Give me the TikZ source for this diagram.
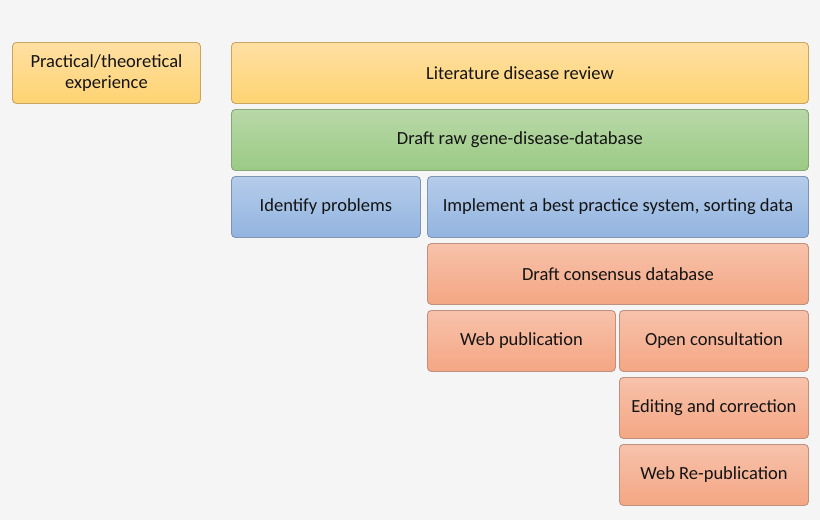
\documentclass[tikz,border=0pt]{standalone}
\usepackage{fontspec}
\setmainfont{Carlito}
\definecolor{bg}{HTML}{F5F5F5}
\definecolor{yT}{HTML}{FFE0A3}\definecolor{yB}{HTML}{FFD372}\definecolor{yD}{HTML}{C9A562}
\definecolor{gT}{HTML}{B8D8A8}\definecolor{gB}{HTML}{9BCA84}\definecolor{gD}{HTML}{86A675}
\definecolor{bT}{HTML}{B5CCEA}\definecolor{bB}{HTML}{92B4E0}\definecolor{bD}{HTML}{7D95B3}
\definecolor{oT}{HTML}{F7C2AB}\definecolor{oB}{HTML}{F4A683}\definecolor{oD}{HTML}{C0907E}
\definecolor{txt}{HTML}{141414}
\tikzset{
  box/.style={rounded corners=4pt, line width=0.9pt, anchor=north west, inner sep=0pt,
    font=\fontsize{18.5}{20.5}\selectfont, text=txt, align=center},
  ybox/.style={box, draw=yD, top color=yT, bottom color=yB},
  gbox/.style={box, draw=gD, top color=gT, bottom color=gB},
  bbox/.style={box, draw=bD, top color=bT, bottom color=bB},
  obox/.style={box, draw=oD, top color=oT, bottom color=oB},
}
\begin{document}
\begin{tikzpicture}[x=1pt,y=-1pt]
\fill[bg] (0,0) rectangle (820,520);
\useasboundingbox (0,0) rectangle (820,520);
\node[ybox, minimum width=188pt, minimum height=61pt] (prac) at (12,42) {Practical/theoretical\\experience};
\node[ybox, minimum width=577pt, minimum height=61pt] (lit) at (231,42) {Literature disease review};
\node[gbox, minimum width=577pt, minimum height=61pt] (raw) at (231,109) {Draft raw gene-disease-database};
\node[bbox, minimum width=189pt, minimum height=61pt] (ident) at (231,176) {Identify problems};
\node[bbox, minimum width=381pt, minimum height=61pt] (impl) at (427,176) {Implement a best practice system, sorting data};
\node[obox, minimum width=381pt, minimum height=61pt] (cons) at (427,243) {Draft consensus database};
\node[obox, minimum width=188pt, minimum height=61pt] (webp) at (427,310) {Web publication};
\node[obox, minimum width=189pt, minimum height=61pt] (open) at (619,310) {Open consultation};
\node[obox, minimum width=189pt, minimum height=61pt] (edit) at (619,377) {Editing and correction};
\node[obox, minimum width=189pt, minimum height=61pt] (rep) at (619,444) {Web Re-publication};
\end{tikzpicture}
\end{document}
